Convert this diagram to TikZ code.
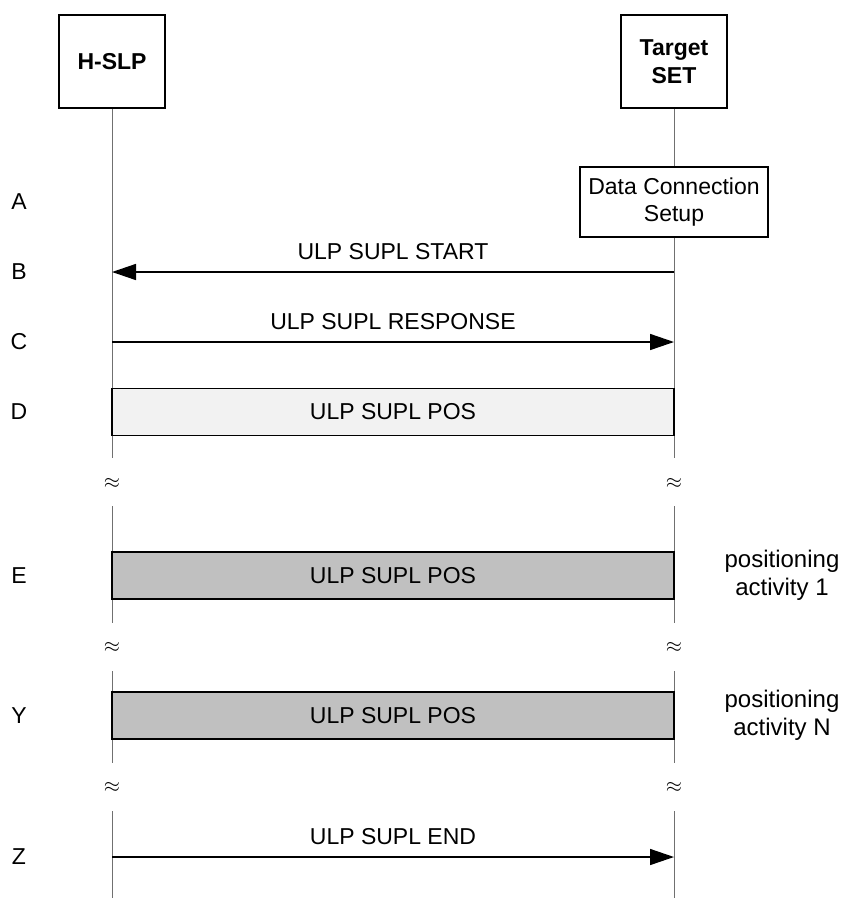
\documentclass[tikz,border=0pt]{standalone}
\usepackage{fontspec}
\setmainfont{Liberation Sans}
\usetikzlibrary{arrows.meta,backgrounds}
\definecolor{lifegray}{HTML}{707070}
\definecolor{lightfill}{HTML}{F2F2F2}
\definecolor{darkfill}{HTML}{C0C0C0}
\tikzset{
  txt/.style={font=\fontsize{23}{27.5}\selectfont, inner sep=0pt, align=center},
  header/.style={draw=black, line width=1.5pt, fill=white, minimum width=106pt, minimum height=93pt, inner sep=0pt, align=center, font=\fontsize{23}{27.5}\selectfont\bfseries},
  setupbox/.style={draw=black, line width=1.5pt, fill=white, minimum width=188pt, minimum height=70pt, inner sep=0pt, align=center, font=\fontsize{23}{27.5}\selectfont},
  posbox/.style={draw=black, line width=1.5pt, minimum width=562pt, minimum height=47pt, inner sep=0pt, font=\fontsize{23}{27.5}\selectfont},
  lifeline/.style={draw=lifegray, line width=1pt},
  msg/.style={draw=black, line width=1.5pt, -{Triangle[length=24pt,width=16pt]}},
  rowlabel/.style={font=\fontsize{23}{27.5}\selectfont, inner sep=0pt},
  brk/.style={font=\fontsize{21}{21}\selectfont, inner sep=0pt},
  sidenote/.style={font=\fontsize{24}{28}\selectfont, inner sep=0pt, align=center}
}
\begin{document}
\begin{tikzpicture}[x=1pt,y=-1pt]
\useasboundingbox (0,0) rectangle (845,898);
% headers
\node[header] (hslp) at (112,61.5) {H-SLP};
\node[header] (tset) at (674,61.5) {Target\\SET};
% data connection setup
\node[setupbox] (dcs) at (674,202) {Data Connection\\Setup};
% lifeline coordinates
\coordinate (h1e) at (112,458);
\coordinate (h2s) at (112,506);
\coordinate (h2e) at (112,623);
\coordinate (h3s) at (112,671);
\coordinate (h3e) at (112,763);
\coordinate (h4s) at (112,811);
\coordinate (h4e) at (112,898);
\coordinate (t1e) at (674,458);
\coordinate (t2s) at (674,506);
\coordinate (t2e) at (674,623);
\coordinate (t3s) at (674,671);
\coordinate (t3e) at (674,763);
\coordinate (t4s) at (674,811);
\coordinate (t4e) at (674,898);
\begin{pgfonlayer}{background}
\draw[lifeline] (hslp.south) -- (h1e);
\draw[lifeline] (h2s) -- (h2e);
\draw[lifeline] (h3s) -- (h3e);
\draw[lifeline] (h4s) -- (h4e);
\draw[lifeline] (tset.south) -- (t1e);
\draw[lifeline] (t2s) -- (t2e);
\draw[lifeline] (t3s) -- (t3e);
\draw[lifeline] (t4s) -- (t4e);
\end{pgfonlayer}
% breaks
\node[brk] (bh1) at (112,483) {$\approx$};
\node[brk] (bt1) at (674,483) {$\approx$};
\node[brk] (bh2) at (112,647) {$\approx$};
\node[brk] (bt2) at (674,647) {$\approx$};
\node[brk] (bh3) at (112,787) {$\approx$};
\node[brk] (bt3) at (674,787) {$\approx$};
% message coordinates
\coordinate (hB) at (112,272);
\coordinate (tB) at (674,272);
\coordinate (hC) at (112,342);
\coordinate (tC) at (674,342);
\coordinate (hZ) at (112,857);
\coordinate (tZ) at (674,857);
% B
\draw[msg] (tB) -- (hB);
\node[txt] (lB) at (393,252) {ULP SUPL START};
% C
\draw[msg] (hC) -- (tC);
\node[txt] (lC) at (393,322) {ULP SUPL RESPONSE};
% D
\node[posbox, fill=lightfill] (posD) at (393,412) {ULP SUPL POS};
% E
\node[posbox, fill=darkfill] (posE) at (393,575.5) {ULP SUPL POS};
\node[sidenote] (noteE) at (782,575.5) {positioning\\activity 1};
% Y
\node[posbox, fill=darkfill] (posY) at (393,715.5) {ULP SUPL POS};
\node[sidenote] (noteY) at (782,715.5) {positioning\\activity N};
% Z
\draw[msg] (hZ) -- (tZ);
\node[txt] (lZ) at (393,837) {ULP SUPL END};
% row labels
\node[rowlabel] (rA) at (19,202) {A};
\node[rowlabel] (rB) at (19,272) {B};
\node[rowlabel] (rC) at (19,342) {C};
\node[rowlabel] (rD) at (19,412) {D};
\node[rowlabel] (rE) at (19,576) {E};
\node[rowlabel] (rY) at (19,715.5) {Y};
\node[rowlabel] (rZ) at (19,857) {Z};
\end{tikzpicture}
\end{document}
